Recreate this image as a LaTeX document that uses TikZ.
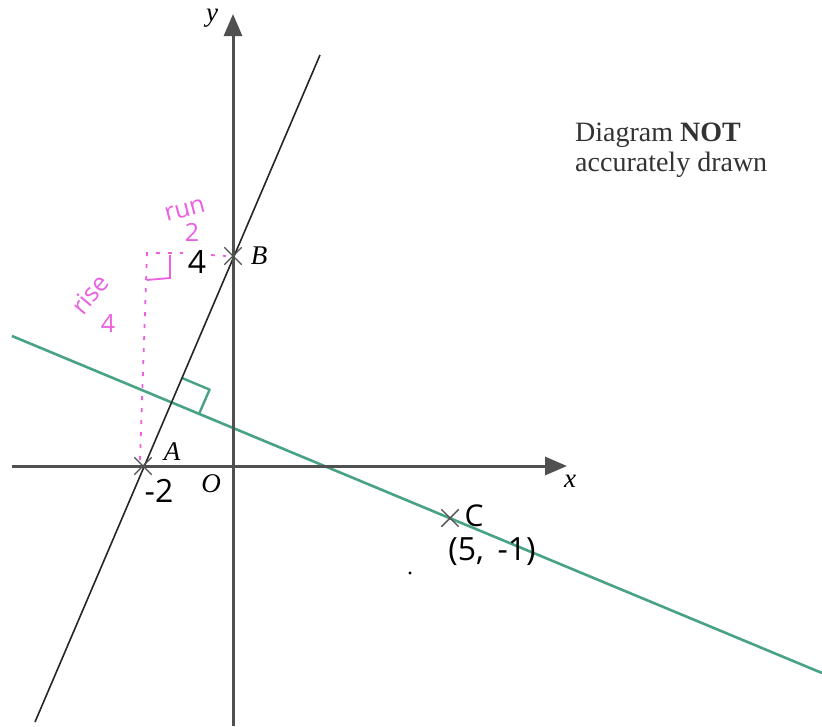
\documentclass[tikz,border=0pt]{standalone}
\usepackage{fontspec}
\setmainfont{Liberation Serif}
\newfontfamily\hand{Open Sans}
\usetikzlibrary{arrows.meta,shapes.misc}
\definecolor{axisgray}{RGB}{80,80,80}
\definecolor{lgreen}{RGB}{72,163,133}
\definecolor{pinkm}{RGB}{235,95,225}
\begin{document}
\begin{tikzpicture}[x=1pt,y=-1pt,
  axis/.style={axisgray,line width=3pt,-{Triangle[length=22pt,width=18pt]}},
  blkline/.style={black!85,line width=1.6pt},
  grnline/.style={lgreen,line width=2.6pt},
  crossmark/.style={cross out,draw=axisgray,line width=1.4pt,minimum size=16pt,inner sep=0pt},
  lbl/.style={font=\fontsize{27}{29}\selectfont\itshape,inner sep=0pt},
  handtxt/.style={font=\hand\fontsize{32}{34}\selectfont,inner sep=0pt},
  pinktxt/.style={font=\hand\fontsize{25}{25}\selectfont,text=pinkm,inner sep=0pt},
  pinkdot/.style={pinkm,line width=1.8pt,dash pattern=on 4pt off 8pt}]
\useasboundingbox (0,0) rectangle (822,726);
\fill[white] (0,0) rectangle (822,726);
% coordinates
\coordinate (xs) at (12,466);
\coordinate (xe) at (567,466);
\coordinate (ys) at (233,726);
\coordinate (ye) at (233,14);
\coordinate (l1s) at (35,722);
\coordinate (l1e) at (320,55);
\coordinate (l2s) at (12,336);
\coordinate (l2e) at (822,673);
\coordinate (ra1) at (182,378);
\coordinate (ra2) at (209.6,389.6);
\coordinate (ra3) at (199,414);
\coordinate (pv1) at (140,460);
\coordinate (pv2) at (147,253);
\coordinate (ph1) at (183,253);
\coordinate (ph2) at (211,255);
\coordinate (ph3) at (226,256);
\coordinate (sq1) at (170,255);
\coordinate (sq2) at (170,278);
\coordinate (sq3) at (147,280);
% lines
\draw[grnline] (l2s) -- (l2e);
\draw[grnline,line width=2.4pt,line join=round] (ra1) -- (ra2) -- (ra3);
\draw[blkline] (l1s) -- (l1e);
\draw[axis] (xs) -- (xe);
\draw[axis] (ys) -- (ye);
% pink construction
\draw[pinkdot] (pv1) -- (pv2) -- (ph1);
\draw[pinkdot] (ph2) -- (ph3);
\draw[pinkm,line width=1.8pt] (sq1) -- (sq2) -- (sq3);
% crosses
\node[crossmark] (A) at (143,466) {};
\node[crossmark] (B) at (233,256) {};
\node[crossmark] (C) at (450,518) {};
% labels
\node[lbl] (yl) at (212,18) {y};
\node[lbl] (xl) at (570,481) {x};
\node[lbl] (Al) at (172,452) {A};
\node[lbl] (Bl) at (259,256) {B};
\node[lbl] (Ol) at (211,484) {O};
\node[handtxt,font=\hand\fontsize{30}{32}\selectfont] (Cl) at (474,516) {C};
\node[handtxt] (m2) at (159,491) {-2};
\node[handtxt] (f4) at (197,262) {4};
\node[handtxt,font=\hand\fontsize{32}{34}\selectfont] (Cc) at (492,552) {(5,\, -1)};
\fill[black] (410,573) circle (1.6pt);
\node[pinktxt,rotate=15] (run) at (185,210) {run};
\node[pinktxt] (two) at (192,232) {2};
\node[pinktxt,rotate=50] (rise) at (90,294) {rise};
\node[pinktxt] (four) at (108,324) {4};
\node[align=left,anchor=west,inner sep=0pt,text=black!80,
  font=\fontsize{28}{30}\selectfont] (note) at (575,150)
  {Diagram \textbf{NOT}\\accurately drawn};
\end{tikzpicture}
\end{document}
